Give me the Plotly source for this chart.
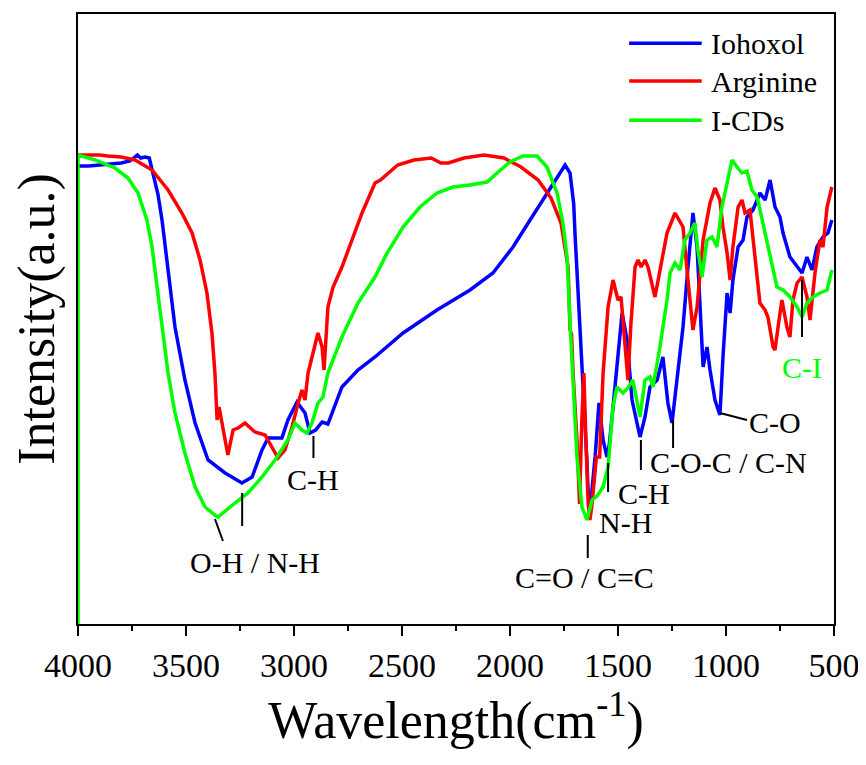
import plotly.graph_objects as go

# ---- data (wavenumber cm-1, intensity a.u.) ----
iohoxol_x = [4000, 3950, 3900, 3850, 3800, 3760, 3740, 3725, 3710, 3690, 3670, 3653, 3630, 3611, 3583,
             3551, 3505, 3458, 3398, 3319, 3241, 3194, 3148, 3120, 3056, 3028, 2986, 2949, 2926, 2900,
             2870, 2843, 2778, 2704, 2625, 2495, 2338, 2185, 2079, 1986, 1907, 1829, 1782, 1745, 1722,
             1705, 1699, 1685, 1662, 1644, 1640, 1630, 1620, 1606, 1588, 1569, 1551, 1540, 1523, 1500,
             1481, 1458, 1435, 1398, 1375, 1352, 1319, 1292, 1269, 1250, 1227, 1199, 1176, 1153, 1134,
             1120, 1106, 1088, 1074, 1051, 1028, 1014, 995, 981, 968, 944, 921, 903, 875, 843, 819, 796,
             773, 750, 736, 704, 671, 648, 625, 602, 579, 551, 528, 510]
iohoxol_y = [458, 458, 459, 460, 461, 463, 467, 469, 466, 467, 466, 451, 430, 404, 351,
             297, 244, 201, 164, 151, 141, 147, 174, 186, 186, 204, 222, 211, 191, 194,
             202, 200, 237, 254, 267, 291, 314, 334, 351, 377, 404, 431, 447, 459, 451,
             420, 390, 334, 251, 164, 140, 108, 135, 167, 221, 184, 167, 180, 217, 270,
             311, 284, 224, 187, 207, 237, 244, 267, 221, 201, 244, 297, 357, 411, 377,
             317, 257, 277, 254, 224, 209, 267, 331, 311, 344, 377, 384, 407, 414, 431, 424, 444,
             417, 407, 391, 367, 357, 351, 367, 354, 377, 387, 391, 404]

arginine_x = [4000, 3900, 3861, 3800, 3736, 3657, 3583, 3519, 3472, 3435, 3403, 3380, 3366, 3356, 3347,
              3333, 3306, 3282, 3259, 3227, 3181, 3134, 3102, 3074, 3042, 3009, 2981, 2963, 2949, 2935,
              2912, 2889, 2870, 2861, 2843, 2819, 2778, 2731, 2685, 2625, 2600, 2520, 2445, 2365, 2320,
              2285, 2213, 2120, 2028, 1949, 1870, 1810, 1764, 1731, 1722, 1715, 1708, 1690, 1678, 1668,
              1658, 1648, 1638, 1630, 1620, 1600, 1585, 1569, 1546, 1523, 1500, 1486, 1468, 1454, 1440,
              1421, 1407, 1393, 1375, 1361, 1329, 1273, 1236, 1199, 1176, 1153, 1134, 1106, 1074, 1051,
              1028, 1014, 995, 981, 968, 944, 926, 912, 889, 875, 856, 843, 819, 806, 782, 773, 759, 741,
              718, 704, 690, 671, 648, 625, 611, 588, 565, 551, 532, 510]
arginine_y = [469, 469, 468, 467, 464, 454, 434, 411, 391, 364, 331, 291, 251, 204, 217,
              201, 169, 194, 196, 201, 192, 189, 177, 166, 174, 197, 221, 234, 224, 251,
              271, 291, 277, 254, 317, 337, 357, 384, 411, 441, 444, 459, 464, 466, 461,
              461, 466, 469, 466, 457, 444, 426, 401, 357, 294, 290, 251, 184, 120, 200,
              251, 180, 120, 104, 120, 167, 167, 251, 317, 344, 324, 327, 284, 244, 301,
              357, 364, 357, 364, 357, 327, 391, 411, 397, 344, 294, 317, 384, 421, 436,
              424, 397, 371, 344, 377, 417, 424, 411, 414, 384, 347, 321, 314, 307, 277, 274, 297, 324,
              297, 287, 324, 341, 347, 327, 304, 351, 384, 377, 417, 437]

icds_x = [4000, 4000, 3921, 3829, 3769, 3722, 3681, 3657, 3634, 3611, 3583, 3551, 3505, 3458, 3412,
          3366, 3352, 3273, 3213, 3148, 3088, 3028, 2995, 2963, 2940, 2917, 2889, 2866, 2843, 2778,
          2704, 2625, 2569, 2495, 2417, 2338, 2264, 2185, 2106, 2060, 2000, 1940, 1875, 1829, 1782,
          1755, 1736, 1722, 1708, 1690, 1667, 1644, 1620, 1597, 1569, 1546, 1523, 1505, 1477, 1454,
          1431, 1412, 1398, 1375, 1352, 1338, 1306, 1273, 1259, 1236, 1213, 1190, 1167, 1144, 1130,
          1111, 1088, 1065, 1042, 1019, 995, 972, 949, 926, 903, 880, 856, 833, 810, 787, 764, 736,
          704, 671, 648, 625, 597, 565, 532, 510]
icds_y = [0, 469, 464, 456, 446, 431, 404, 377, 337, 297, 251, 211, 171, 137, 117,
          109, 107, 121, 131, 147, 164, 184, 201, 194, 191, 201, 221, 227, 251, 287,
          321, 347, 371, 397, 417, 431, 437, 439, 442, 451, 462, 468, 468, 457, 431,
          401, 367, 301, 234, 167, 117, 104, 124, 128, 137, 157, 217, 237, 231, 236,
          244, 224, 207, 244, 247, 237, 277, 324, 351, 361, 354, 384, 391, 401, 374,
          347, 384, 387, 377, 417, 441, 464, 457, 451, 453, 434, 427, 404, 384, 361, 337, 334,
          327, 317, 307, 321, 327, 331, 334, 354]

series_names = ["Iohoxol", "Arginine", "I-CDs"]
series_colors = ["#0000FF", "#FF0000", "#00FF00"]

x_ticks = [4000, 3500, 3000, 2500, 2000, 1500, 1000, 500]

FONT = "Liberation Serif, Times New Roman, serif"

fig = go.Figure()
for name, xs, ys, col in zip(series_names, [iohoxol_x, arginine_x, icds_x],
                             [iohoxol_y, arginine_y, icds_y], series_colors):
    fig.add_trace(go.Scatter(x=xs, y=ys, mode="lines", name=name,
                             line=dict(color=col, width=3.5, shape="linear"),
                             showlegend=False))

# ---- band annotations: tick lines ----
seg = dict(color="black", width=2)
lines = [
    (3240, 131, 3240, 98),
    (3366, 105, 3329, 83),
    (2910, 188, 2910, 166),
    (1640, 89, 1640, 66),
    (1546, 161, 1546, 132),
    (1394, 184, 1394, 154),
    (1245, 204, 1245, 176),
    (1028, 211, 903, 204),
    (648, 344, 648, 287),
]
for x0, y0, x1, y1 in lines:
    fig.add_shape(type="line", xref="x", yref="y", x0=x0, y0=y0, x1=x1, y1=y1, line=seg)

labels = [
    ("O-H / N-H", 3181, 62, "center", "black"),
    ("C-H", 2910, 145, "center", "black"),
    ("C=O / C=C", 1657, 47, "center", "black"),
    ("N-H", 1598, 102, "left", "black"),
    ("C-H", 1510, 131, "left", "black"),
    ("C-O-C / C-N", 1360, 162, "left", "black"),
    ("C-O", 905, 202, "left", "black"),
    ("C-I", 648, 257, "center", "#00FF00"),
]
for txt, x, y, xa, col in labels:
    fig.add_annotation(text=txt, x=x, y=y, xref="x", yref="y", xanchor=xa, yanchor="middle",
                       showarrow=False, font=dict(family=FONT, size=30, color=col))

# ---- legend (drawn) ----
leg_y = [0.952, 0.890, 0.826]
for name, col, yy in zip(series_names, series_colors, leg_y):
    fig.add_shape(type="line", xref="paper", yref="paper", x0=0.729, x1=0.825, y0=yy, y1=yy,
                  line=dict(color=col, width=3.5))
    fig.add_annotation(text=name, x=0.834, y=yy, xref="paper", yref="paper", xanchor="left",
                       yanchor="middle", showarrow=False, font=dict(family=FONT, size=30, color="black"))

fig.update_layout(
    width=866, height=765,
    margin=dict(l=70, r=40, t=6, b=149, autoexpand=False),
    paper_bgcolor="white", plot_bgcolor="white",
    font=dict(family=FONT, color="black"),
)
fig.update_xaxes(range=[4000, 500], tickvals=x_ticks, ticktext=[str(v) for v in x_ticks],
                 ticks="outside", ticklen=10, tickwidth=2, tickcolor="black",
                 minor=dict(dtick=250, ticks="outside", ticklen=5, tickwidth=2, tickcolor="black", showgrid=False),
                 showline=True, linecolor="black", linewidth=2, mirror=True, layer="below traces",
                 showgrid=False, zeroline=False, automargin=False,
                 tickfont=dict(family=FONT, size=34, color="black"),
                 title=dict(text="Wavelength(cm<sup>-1</sup>)", font=dict(family=FONT, size=52, color="black"),
                            standoff=0))
fig.update_yaxes(range=[0, 610], showticklabels=False, ticks="",
                 showline=True, linecolor="black", linewidth=2, mirror=True, layer="below traces",
                 showgrid=False, zeroline=False, automargin=False,
                 title=dict(text="Intensity(a.u.)", font=dict(family=FONT, size=52, color="black"),
                            standoff=12))

fig.write_html("out.html")
